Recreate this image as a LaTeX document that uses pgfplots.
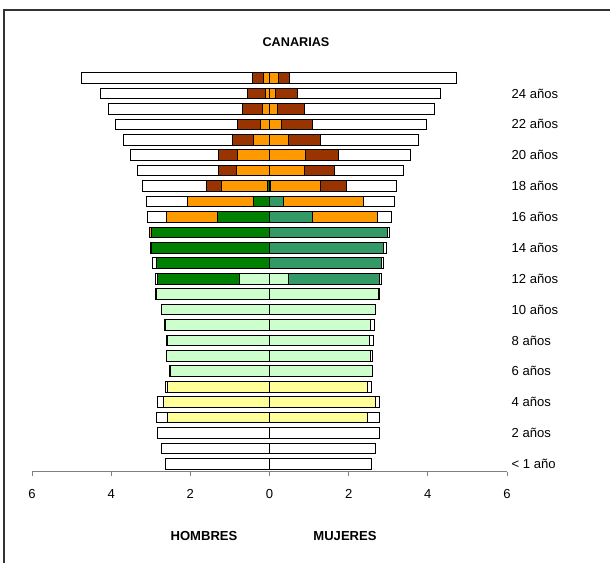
\documentclass[border=0pt]{standalone}
\usepackage{pgfplots}
\pgfplotsset{compat=1.18}
\usepackage{pgfplotstable}
\usepackage{fontspec}
\setmainfont{Liberation Sans}
\definecolor{uni}{HTML}{993300}
\definecolor{bac}{HTML}{FF9900}
\definecolor{esoh}{HTML}{008000}
\definecolor{esom}{HTML}{339966}
\definecolor{pri}{HTML}{CCFFCC}
\definecolor{inf}{HTML}{FFFF99}

% cumulative extents from the centre: inf <= pri <= eso <= bac <= uni <= tot
\pgfplotstableread{
age tot uni bac eso pri inf
0 2.64 0 0 0 0 0
1 2.73 0 0 0 0 0
2 2.83 0 0 0 0 0
3 2.85 2.57 2.57 2.57 2.57 2.57
4 2.83 2.69 2.69 2.69 2.69 2.69
5 2.64 2.57 2.57 2.57 2.57 2.57
6 2.52 2.51 2.51 2.51 2.51 0
7 2.60 2.59 2.59 2.59 2.59 0
8 2.59 2.58 2.58 2.58 2.58 0
9 2.65 2.64 2.64 2.64 2.64 0
10 2.74 2.73 2.73 2.73 2.73 0
11 2.87 2.85 2.85 2.85 2.85 0
12 2.88 2.83 2.83 2.83 0.77 0
13 2.95 2.85 2.85 2.85 0 0
14 3.00 2.99 2.99 2.99 0 0
15 3.03 3.02 3.02 2.98 0 0
16 3.09 2.59 2.59 1.31 0 0
17 3.12 2.08 2.08 0.41 0 0
18 3.20 1.59 1.22 0.05 0 0
19 3.34 1.30 0.83 0 0 0
20 3.50 1.29 0.80 0 0 0
21 3.70 0.93 0.40 0 0 0
22 3.89 0.80 0.24 0 0 0
23 4.08 0.68 0.17 0 0 0
24 4.26 0.56 0.11 0 0 0
25 4.74 0.44 0.16 0 0 0
}\hombres

\pgfplotstableread{
age tot uni bac eso pri inf
0 2.57 0 0 0 0 0
1 2.67 0 0 0 0 0
2 2.78 0 0 0 0 0
3 2.77 2.47 2.47 2.47 2.47 2.47
4 2.78 2.67 2.67 2.67 2.67 2.67
5 2.57 2.47 2.47 2.47 2.47 2.47
6 2.60 2.59 2.59 2.59 2.59 0
7 2.61 2.55 2.55 2.55 2.55 0
8 2.62 2.53 2.53 2.53 2.53 0
9 2.66 2.56 2.56 2.56 2.56 0
10 2.68 2.67 2.67 2.67 2.67 0
11 2.77 2.76 2.76 2.76 2.76 0
12 2.83 2.77 2.77 2.77 0.49 0
13 2.89 2.83 2.83 2.83 0 0
14 2.95 2.89 2.89 2.89 0 0
15 3.02 2.98 2.98 2.98 0 0
16 3.08 2.73 2.73 1.09 0 0
17 3.15 2.37 2.37 0.35 0 0
18 3.22 1.95 1.28 0.03 0 0
19 3.38 1.65 0.88 0 0 0
20 3.56 1.75 0.92 0 0 0
21 3.76 1.29 0.47 0 0 0
22 3.97 1.08 0.30 0 0 0
23 4.18 0.88 0.20 0 0 0
24 4.33 0.70 0.14 0 0 0
25 4.72 0.51 0.23 0 0 0
}\mujeres

\begin{document}
\begin{tikzpicture}
\path[use as bounding box] (0,0) rectangle (457.5pt,422.25pt);
\draw[line width=0.8pt, black!80] (3pt,0) -- (3pt,414.75pt) -- (457.5pt,414.75pt);
\begin{axis}[
  at={(24pt,68.5pt)}, anchor=south west,
  scale only axis, width=356.25pt, height=301pt,
  xbar, bar width=8pt, bar shift=0pt,
  xmin=-6, xmax=6, ymin=-0.5, ymax=25.5,
  enlargelimits=false,
  axis x line*=bottom, axis y line*=right,
  y axis line style={draw=none},
  x axis line style={gray, line width=0.8pt},
  xtick={-6,-4,...,6}, xticklabels={6,4,2,0,2,4,6},
  xtick style={gray, line width=0.6pt}, tick align=outside,
  major tick length=3pt,
  ytick={0,2,...,24},
  yticklabels={< 1 año,2 años,4 años,6 años,8 años,10 años,12 años,14 años,16 años,18 años,20 años,22 años,24 años},
  ytick style={draw=none},
  yticklabel style={anchor=west, xshift=-3pt},
  xticklabel style={yshift=-7pt},
  tick label style={font=\fontsize{9.8}{11}\selectfont},
  /pgf/number format/assume math mode=true,
  every axis plot/.append style={draw=black, line width=0.75pt},
]
\addplot[fill=white] table[x expr=-\thisrow{tot}, y=age] {\hombres};
\addplot[fill=uni] table[x expr=-\thisrow{uni}, y=age] {\hombres};
\addplot[fill=bac] table[x expr=-\thisrow{bac}, y=age] {\hombres};
\addplot[fill=esoh] table[x expr=-\thisrow{eso}, y=age] {\hombres};
\addplot[fill=pri] table[x expr=-\thisrow{pri}, y=age] {\hombres};
\addplot[fill=inf] table[x expr=-\thisrow{inf}, y=age] {\hombres};
\addplot[fill=white] table[x=tot, y=age] {\mujeres};
\addplot[fill=uni] table[x=uni, y=age] {\mujeres};
\addplot[fill=bac] table[x=bac, y=age] {\mujeres};
\addplot[fill=esom] table[x=eso, y=age] {\mujeres};
\addplot[fill=pri] table[x=pri, y=age] {\mujeres};
\addplot[fill=inf] table[x=inf, y=age] {\mujeres};
\end{axis}
\node[font=\bfseries\fontsize{9.5}{11}\selectfont] at (222pt,390.75pt) {CANARIAS};
\node[font=\bfseries\fontsize{9.8}{11}\selectfont] at (153pt,20.25pt) {HOMBRES};
\node[font=\bfseries\fontsize{9.8}{11}\selectfont] at (258.75pt,20.25pt) {MUJERES};
\end{tikzpicture}
\end{document}
